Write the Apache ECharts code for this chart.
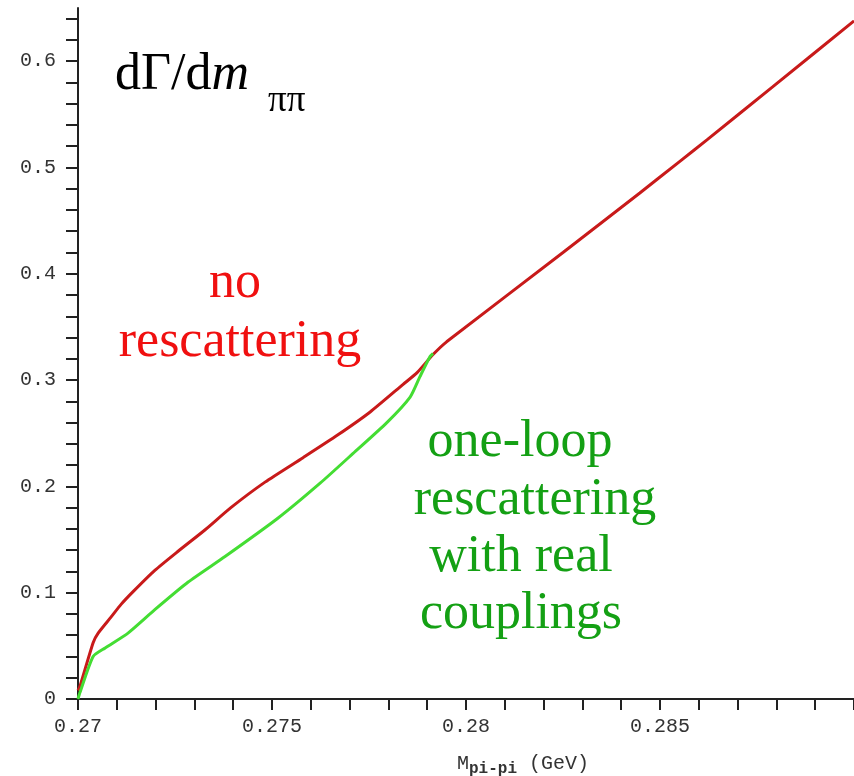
<!DOCTYPE html>
<html>
<head>
<meta charset="utf-8">
<script src="https://cdn.jsdelivr.net/npm/echarts@6/dist/echarts.min.js"></script>
<style>
html, body { margin: 0; padding: 0; background: #fff; }
#chart { width: 854px; height: 776px; }
</style>
</head>
<body>
<div id="chart"></div>
<script>
// M_pi-pi (GeV) and dGamma/dm for the two curves
var massRed = [0.27, 0.27005, 0.27039, 0.27052, 0.27085, 0.27111, 0.27142, 0.27198, 0.27258, 0.27327,
    0.27394, 0.27482, 0.2758, 0.27668, 0.27753, 0.27838, 0.27874, 0.27915, 0.2795, 0.2825,
    0.28448, 0.28552, 0.28621, 0.28791, 0.28997, 0.29];
var rateRed = [0.008, 0.012, 0.053, 0.062, 0.077, 0.089, 0.101, 0.121, 0.139, 0.159,
    0.180, 0.204, 0.227, 0.248, 0.270, 0.296, 0.307, 0.324, 0.336, 0.420,
    0.476, 0.506, 0.526, 0.576, 0.637, 0.638];
var massGreen = [0.27, 0.27005, 0.27039, 0.2707, 0.27129, 0.27198, 0.27284, 0.27379, 0.27515, 0.27624,
    0.27709, 0.27796, 0.27856, 0.27881, 0.27907, 0.27915];
var rateGreen = [0, 0.006, 0.040, 0.048, 0.062, 0.084, 0.110, 0.134, 0.170, 0.203,
    0.231, 0.260, 0.284, 0.303, 0.322, 0.325];

// axis ticks and labels
var xTicks = [0.27, 0.271, 0.272, 0.273, 0.274, 0.275, 0.276, 0.277, 0.278, 0.279, 0.28,
    0.281, 0.282, 0.283, 0.284, 0.285, 0.286, 0.287, 0.288, 0.289, 0.29];
var xLabels = [0.27, 0.275, 0.28, 0.285];
var yTicks = [0, 0.02, 0.04, 0.06, 0.08, 0.1, 0.12, 0.14, 0.16, 0.18, 0.2, 0.22, 0.24, 0.26, 0.28,
    0.3, 0.32, 0.34, 0.36, 0.38, 0.4, 0.42, 0.44, 0.46, 0.48, 0.5, 0.52, 0.54, 0.56, 0.58, 0.6, 0.62, 0.64];
var yLabels = [0, 0.1, 0.2, 0.3, 0.4, 0.5, 0.6];

function pairs(xs, ys) {
    var out = [];
    for (var i = 0; i < xs.length; i++) out.push([xs[i], ys[i]]);
    return out;
}

var chartDom = document.getElementById('chart');
var myChart = echarts.init(chartDom);

var monoFont = '"Liberation Mono", "DejaVu Sans Mono", monospace';
var serifFont = '"Liberation Serif", "DejaVu Serif", serif';

var option = {
    animation: false,
    grid: {
        left: 78,
        right: 0,
        top: 8,
        bottom: 77
    },
    xAxis: {
        type: 'value',
        min: 0.27,
        max: 0.29,
        splitLine: { show: false },
        axisLine: { show: true, lineStyle: { color: '#222', width: 2 } },
        axisTick: { show: true, length: 11, customValues: xTicks, lineStyle: { color: '#222', width: 2 } },
        axisLabel: {
            customValues: xLabels,
            margin: 18,
            color: '#333',
            fontFamily: monoFont,
            fontSize: 20,
            formatter: function (v) { return String(+v.toFixed(3)); }
        }
    },
    yAxis: {
        type: 'value',
        min: 0,
        max: 0.65,
        splitLine: { show: false },
        axisLine: { show: true, lineStyle: { color: '#222', width: 2 } },
        axisTick: { show: true, length: 12, customValues: yTicks, lineStyle: { color: '#222', width: 2 } },
        axisLabel: {
            customValues: yLabels,
            margin: 22,
            color: '#333',
            fontFamily: monoFont,
            fontSize: 20,
            formatter: function (v) { return String(+v.toFixed(1)); }
        }
    },
    graphic: [
        {
            type: 'text', x: 115, y: 75,
            style: {
                text: '{a|dΓ/d}{b|m}',
                align: 'left', verticalAlign: 'middle',
                rich: {
                    a: { font: '52px ' + serifFont, fill: '#000' },
                    b: { font: 'italic 52px ' + serifFont, fill: '#000' }
                }
            }
        },
        {
            type: 'text', x: 268, y: 101,
            style: { text: 'ππ', font: '37px ' + serifFont, fill: '#000', align: 'left', verticalAlign: 'middle' }
        },
        {
            type: 'text', x: 235, y: 283,
            style: { text: 'no', font: '52px ' + serifFont, fill: '#f01010', align: 'center', verticalAlign: 'middle' }
        },
        {
            type: 'text', x: 240, y: 342,
            style: { text: 'rescattering', font: '52px ' + serifFont, fill: '#f01010', align: 'center', verticalAlign: 'middle' }
        },
        {
            type: 'text', x: 520, y: 442,
            style: { text: 'one-loop', font: '52px ' + serifFont, fill: '#14a014', align: 'center', verticalAlign: 'middle' }
        },
        {
            type: 'text', x: 535, y: 500,
            style: { text: 'rescattering', font: '52px ' + serifFont, fill: '#14a014', align: 'center', verticalAlign: 'middle' }
        },
        {
            type: 'text', x: 521, y: 557,
            style: { text: 'with real', font: '52px ' + serifFont, fill: '#14a014', align: 'center', verticalAlign: 'middle' }
        },
        {
            type: 'text', x: 521, y: 614,
            style: { text: 'couplings', font: '52px ' + serifFont, fill: '#14a014', align: 'center', verticalAlign: 'middle' }
        },
        {
            type: 'text', x: 457, y: 764,
            style: {
                text: '{m|M}{s|pi-pi}{m| (GeV)}',
                align: 'left', verticalAlign: 'middle',
                rich: {
                    m: { font: '20px ' + monoFont, fill: '#333' },
                    s: { font: 'bold 16px ' + monoFont, fill: '#333', padding: [10, 0, 0, 0] }
                }
            }
        }
    ],
    series: [
        {
            name: 'no rescattering',
            type: 'line',
            showSymbol: false,
            smooth: 0.2,
            lineStyle: { color: '#c81a1a', width: 3 },
            data: pairs(massRed, rateRed)
        },
        {
            name: 'one-loop rescattering',
            type: 'line',
            showSymbol: false,
            smooth: 0.2,
            lineStyle: { color: '#44dd33', width: 3 },
            data: pairs(massGreen, rateGreen)
        }
    ]
};
myChart.setOption(option);
</script>
</body>
</html>
